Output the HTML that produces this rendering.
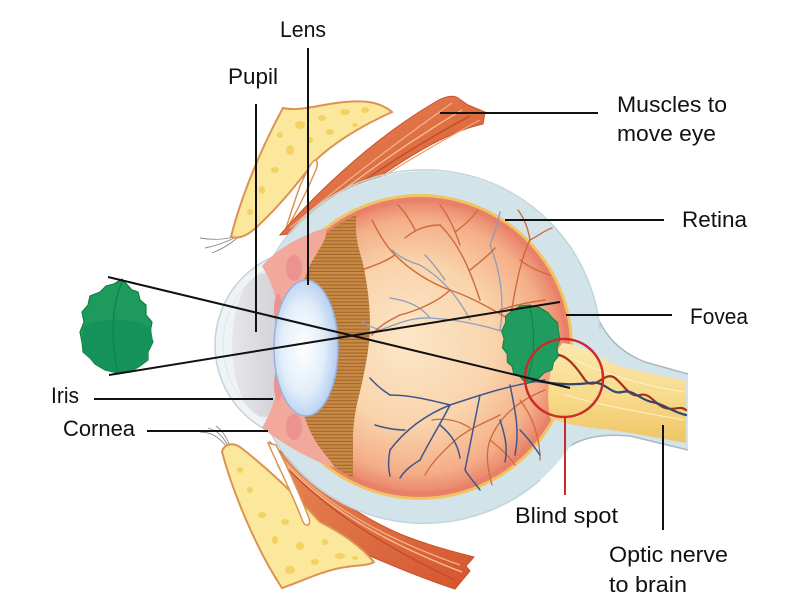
<!DOCTYPE html>
<html><head><meta charset="utf-8"><style>
html,body{margin:0;padding:0;background:#fff;}
svg{display:block}
text{font-family:"Liberation Sans",Arial,sans-serif;font-size:22px;fill:#111;}
</style></head><body>
<svg width="800" height="600" viewBox="0 0 800 600" xmlns="http://www.w3.org/2000/svg">
<defs>
<radialGradient id="vit" cx="420" cy="347" r="148" fx="405" fy="340" gradientUnits="userSpaceOnUse">
<stop offset="0" stop-color="#fce7c8"/>
<stop offset="0.55" stop-color="#f9d4ac"/>
<stop offset="0.86" stop-color="#f4ae88"/>
<stop offset="1" stop-color="#e9816a"/>
</radialGradient>
<pattern id="stripes" width="10" height="3.4" patternUnits="userSpaceOnUse">
<rect width="10" height="3.4" fill="#c98a45"/>
<rect y="2.3" width="10" height="1.1" fill="#a2672c"/>
</pattern>
<radialGradient id="lensg" cx="0.45" cy="0.5" r="0.6">
<stop offset="0" stop-color="#ffffff"/>
<stop offset="0.55" stop-color="#e3eefa"/>
<stop offset="0.85" stop-color="#bcd3f1"/>
<stop offset="1" stop-color="#9fbbe6"/>
</radialGradient>
<linearGradient id="nerveg" x1="0" y1="0" x2="0" y2="1">
<stop offset="0" stop-color="#fbe8ad"/>
<stop offset="0.5" stop-color="#f8dc8e"/>
<stop offset="1" stop-color="#efc565"/>
</linearGradient>
<linearGradient id="chg" x1="0" y1="0" x2="1" y2="0">
<stop offset="0" stop-color="#e6e6ea"/>
<stop offset="1" stop-color="#c8c9d0"/>
</linearGradient>
<linearGradient id="musg" x1="0" y1="0" x2="1" y2="1">
<stop offset="0" stop-color="#e88a58"/>
<stop offset="1" stop-color="#d4552f"/>
</linearGradient>
<clipPath id="inner"><circle cx="420" cy="347" r="147"/></clipPath>
</defs>
<rect width="800" height="600" fill="#fff"/>

<!-- eyelashes -->
<g fill="none" stroke="#8a8a8a" stroke-width="0.9">
<path d="M236,236 C225,240 212,240 200,238"/>
<path d="M236,237 C225,243 215,246 205,248"/>
<path d="M237,238 C228,246 220,250 212,253"/>
<path d="M226,446 C218,436 210,432 200,432"/>
<path d="M228,446 C222,434 215,430 208,428"/>
<path d="M230,446 C226,436 222,430 216,426"/>
</g>

<!-- upper lid + fat -->
<path d="M231,237 C240,200 260,150 283,108 C300,112 320,104 345,102 C365,100 380,102 392,112 C370,122 340,138 318,158 C305,172 290,195 262,222 C252,232 242,240 231,237 Z" fill="#fbe89c" stroke="#dc9350" stroke-width="2"/>
<g fill="#f4d262">
<ellipse cx="300" cy="125" rx="5" ry="4"/><ellipse cx="322" cy="118" rx="4" ry="3"/><ellipse cx="345" cy="112" rx="5" ry="3"/>
<ellipse cx="365" cy="110" rx="4" ry="3"/><ellipse cx="330" cy="132" rx="4" ry="3"/><ellipse cx="290" cy="150" rx="4" ry="5"/>
<ellipse cx="275" cy="170" rx="4" ry="3"/><ellipse cx="262" cy="190" rx="3" ry="4"/><ellipse cx="250" cy="212" rx="3" ry="3"/>
<ellipse cx="310" cy="140" rx="3" ry="3"/><ellipse cx="355" cy="125" rx="3" ry="2"/><ellipse cx="280" cy="135" rx="3" ry="3"/>
</g>
<path d="M300,186 C305,175 310,163 315,160 C318,160 318,166 315,172 C305,195 295,215 285,232 C290,215 295,200 300,186 Z" fill="#fff" stroke="#dc9350" stroke-width="1.5"/>

<!-- upper muscle -->
<path d="M280,235 C320,188 378,136 432,104 C443,97 452,94 458,98 L468,105 L485,112 L483,124 C445,132 395,162 305,232 Z" fill="url(#musg)" stroke="#c8522c" stroke-width="1"/>
<g fill="none" stroke-width="1.3">
<path d="M290,228 C340,185 400,140 452,103" stroke="#f4b085"/>
<path d="M298,230 C350,188 410,148 470,116" stroke="#bf4a28"/>
<path d="M295,229 C345,186 405,144 462,110" stroke="#f7c097"/>
<path d="M302,230 C360,190 420,152 480,120" stroke="#f0a070"/>
</g>

<!-- lower muscle -->
<path d="M270,442 C300,468 340,508 400,534 C430,546 455,552 474,557 L466,566 L470,571 L455,589 C430,581 400,569 370,556 C330,536 300,506 278,466 Z" fill="url(#musg)" stroke="#c8522c" stroke-width="1"/>
<g fill="none" stroke-width="1.3">
<path d="M276,452 C310,490 360,530 460,565" stroke="#f4b085"/>
<path d="M280,460 C315,500 370,540 455,580" stroke="#bf4a28"/>
<path d="M278,456 C312,495 365,535 462,572" stroke="#f7c097"/>
</g>

<!-- lower lid + fat -->
<path d="M222,452 C235,500 260,555 282,588 C300,582 320,572 340,568 C355,565 368,566 374,562 C360,545 340,532 320,522 C300,500 270,470 240,447 C232,442 224,444 222,452 Z" fill="#fbe89c" stroke="#dc9350" stroke-width="2"/>
<g fill="#f4d262">
<ellipse cx="290" cy="570" rx="5" ry="4"/><ellipse cx="315" cy="562" rx="4" ry="3"/><ellipse cx="340" cy="556" rx="5" ry="3"/>
<ellipse cx="300" cy="546" rx="4" ry="4"/><ellipse cx="275" cy="540" rx="3" ry="4"/><ellipse cx="262" cy="515" rx="4" ry="3"/>
<ellipse cx="250" cy="490" rx="3" ry="3"/><ellipse cx="285" cy="522" rx="4" ry="3"/><ellipse cx="325" cy="542" rx="3" ry="3"/>
<ellipse cx="355" cy="558" rx="3" ry="2"/><ellipse cx="240" cy="470" rx="3" ry="3"/>
</g>
<path d="M268,443 C280,470 295,500 303,522 C307,528 311,525 309,518 C300,495 288,468 276,445 Z" fill="#fff" stroke="#dc9350" stroke-width="1.5"/>

<!-- optic nerve sheath -->
<path d="M578,268 C594,325 615,350 645,362 L688,374 L688,450 L630,436 C590,432 560,442 535,482 L520,400 Z" fill="#d3e3ea"/>
<path d="M588,290 C598,330 615,350 645,362 L688,374" fill="none" stroke="#aab8c0" stroke-width="1.5"/>
<path d="M540,478 C560,442 590,432 630,436 L688,450" fill="none" stroke="#aab8c0" stroke-width="1.5"/>

<!-- sclera -->
<circle cx="425" cy="347" r="176" fill="#d3e3ea"/>
<path d="M270,262 A176,176 0 0 1 600,330" fill="none" stroke="#c2d4dc" stroke-width="1.5"/>
<path d="M270,432 A176,176 0 0 0 540,480" fill="none" stroke="#c2d4dc" stroke-width="1.5"/>

<!-- cornea -->
<circle cx="311" cy="345" r="96" fill="#eef3f6" stroke="#c5d1d8" stroke-width="1.5"/>
<circle cx="311" cy="345" r="88" fill="none" stroke="#dfe7ec" stroke-width="1"/>

<!-- retina layers -->
<circle cx="420" cy="347" r="153" fill="#f2c461"/>
<circle cx="420" cy="347" r="150" fill="#e8806a"/>
<circle cx="420" cy="347" r="145" fill="url(#vit)"/>

<!-- brown band -->
<path clip-path="url(#inner)" d="M250,180 L357,180 L357,213 C355,225 355,237 362,260 C367,280 370,305 370,323 C370,340 368,355 362,383 C358,400 353,417 353,440 L353,520 L250,520 Z" fill="url(#stripes)"/>

<!-- vessels -->
<g fill="none" stroke-linecap="round">
<g stroke="#8d9eb9" stroke-width="1.3">
<path d="M545,345 C500,330 470,320 430,318 C410,317 395,325 380,330"/>
<path d="M470,320 C460,300 445,280 420,265"/>
<path d="M430,318 C420,305 405,300 390,298"/>
<path d="M500,330 C505,300 500,270 490,245"/>
<path d="M420,265 C410,262 400,258 392,250"/>
<path d="M490,245 C495,232 498,222 500,212"/>
<path d="M445,280 C438,270 432,262 425,255"/>
<path d="M380,330 C374,328 368,326 362,322"/>
</g>
<g stroke="#d0693b" stroke-width="1.4">
<path d="M540,338 C510,320 480,300 450,290 C430,283 410,270 395,255"/>
<path d="M480,300 C470,270 460,245 440,225"/>
<path d="M450,290 C440,300 420,310 400,315"/>
<path d="M510,320 C515,290 520,260 530,240"/>
<path d="M460,245 C455,230 448,215 440,205"/>
<path d="M395,255 C385,245 378,232 372,220"/>
<path d="M395,255 C385,262 375,265 362,270"/>
<path d="M530,240 C540,235 545,230 552,228"/>
<path d="M440,225 C425,225 415,230 405,238"/>
<path d="M520,260 C530,268 540,272 550,275"/>
<path d="M400,315 C390,320 380,325 372,335"/>
<path d="M530,240 C528,228 524,218 518,210"/>
<path d="M470,270 C480,262 488,256 495,248"/>
<path d="M415,230 C410,220 405,212 398,205"/>
<path d="M500,310 C515,305 530,302 545,300"/>
<path d="M455,232 C465,225 472,218 478,210"/>
</g>
<g stroke="#d0693b" stroke-width="1.3">
<path d="M545,390 C520,400 500,415 490,440 C485,455 488,470 492,485"/>
<path d="M500,415 C480,425 465,430 450,445"/>
<path d="M520,400 C535,420 540,440 540,460"/>
<path d="M450,445 C440,455 432,462 425,475"/>
<path d="M490,440 C500,448 508,455 515,465"/>
<path d="M470,428 C458,420 445,418 432,420"/>
</g>
<g stroke="#41568c" stroke-width="1.5">
<path d="M545,380 C510,385 480,395 450,405 C425,415 405,430 390,450"/>
<path d="M480,395 C475,420 470,445 465,470"/>
<path d="M450,405 C440,425 430,440 420,460"/>
<path d="M510,385 C515,410 520,430 515,455"/>
<path d="M450,405 C430,400 410,395 390,395"/>
<path d="M405,430 C395,430 385,428 375,425"/>
<path d="M420,460 C412,465 405,470 400,478"/>
<path d="M465,470 C470,478 475,483 480,490"/>
<path d="M520,430 C530,440 535,448 540,455"/>
<path d="M390,395 C382,390 376,385 370,378"/>
<path d="M390,450 C388,460 388,468 390,476"/>
<path d="M440,425 C452,435 458,445 460,458"/>
<path d="M500,420 C505,435 508,448 505,462"/>
</g>
</g>

<!-- anterior chamber -->
<ellipse cx="265" cy="345" rx="33" ry="72" fill="url(#chg)"/>
<!-- iris / ciliary -->
<path d="M262,266 C278,248 300,236 325,228 C330,236 318,250 310,265 C303,280 300,295 300,310 L300,385 C300,405 305,425 318,445 C325,455 332,462 335,468 C310,460 285,445 262,428 C275,405 282,380 282,347 C282,312 275,288 262,266 Z" fill="#f2a89a"/>
<g fill="#ec9290">
<ellipse cx="294" cy="268" rx="8" ry="13"/>
<ellipse cx="294" cy="427" rx="8" ry="13"/>
<ellipse cx="278" cy="310" rx="4" ry="16"/>
<ellipse cx="278" cy="385" rx="4" ry="16"/>
</g>
<!-- lens -->
<ellipse cx="306" cy="348" rx="32" ry="68" fill="url(#lensg)" stroke="#98b2dc" stroke-width="1.5"/>

<!-- optic nerve yellow -->
<path d="M562,343 C585,345 600,360 625,368 L686,381 L686,443 L625,432 C600,428 575,428 550,418 C546,395 548,365 562,343 Z" fill="url(#nerveg)"/>
<g fill="none" stroke="#fdf1c8" stroke-width="1">
<path d="M575,360 C600,372 640,385 684,392"/>
<path d="M565,395 C600,405 640,412 684,420"/>
</g>
<g fill="none" stroke-width="2.2" stroke-linecap="round">
<path d="M545,360 C560,345 575,365 585,380 C595,392 605,370 615,378 C625,386 630,398 640,395 C650,392 655,405 665,408 C675,411 680,405 686,410" stroke="#a3301c"/>
<path d="M530,380 C560,385 575,385 590,383 C605,380 610,395 622,392 C634,389 640,400 652,402 C664,404 672,412 686,415" stroke="#34466f"/>
</g>

<!-- leaves -->
<g>
<path d="M122,279 L132,290 L138,292 L140,300 L146,305 L146,315 L152,322 L150,333 L153,342 L148,352 L148,360 L140,366 L130,372 L118,373 L105,370 L95,364 L90,358 L83,352 L82,342 L80,332 L84,322 L82,312 L88,305 L90,296 L100,292 L106,286 L114,284 Z" fill="#1d9a5c" stroke="#13803f" stroke-width="1.2"/>
<path d="M84,326 C100,318 130,316 151,328 L153,342 L148,352 L148,360 L140,366 L130,372 L118,373 L105,370 L95,364 L90,358 L83,352 L82,342 Z" fill="#15925a"/>
<path d="M122,282 C112,305 110,340 118,372" fill="none" stroke="#13803f" stroke-width="1.2"/>
</g>
<g transform="translate(560,384) scale(-0.8,-0.84) translate(-80,-279)">
<path d="M122,279 L132,290 L138,292 L140,300 L146,305 L146,315 L152,322 L150,333 L153,342 L148,352 L148,360 L140,366 L130,372 L118,373 L105,370 L95,364 L90,358 L83,352 L82,342 L80,332 L84,322 L82,312 L88,305 L90,296 L100,292 L106,286 L114,284 Z" fill="#1f9c5e" stroke="#13803f" stroke-width="1.2"/>
<path d="M122,282 C112,305 110,340 118,372" fill="none" stroke="#13803f" stroke-width="1.2"/>
</g>

<!-- blind spot circle -->
<circle cx="564" cy="378" r="39" fill="none" stroke="#cc2a2a" stroke-width="2.5"/>
<line x1="565" y1="417" x2="565" y2="495" stroke="#cc2a2a" stroke-width="2"/>

<!-- rays -->
<g stroke="#111" stroke-width="2">
<line x1="108" y1="277" x2="570" y2="388"/>
<line x1="109" y1="375" x2="560" y2="302"/>
</g>

<!-- leader lines -->
<g stroke="#111" stroke-width="2">
<line x1="308" y1="48" x2="308" y2="285"/>
<line x1="256" y1="104" x2="256" y2="332"/>
<line x1="440" y1="113" x2="598" y2="113"/>
<line x1="505" y1="220" x2="664" y2="220"/>
<line x1="566" y1="315" x2="672" y2="315"/>
<line x1="94" y1="399" x2="273" y2="399"/>
<line x1="147" y1="431" x2="268" y2="431"/>
<line x1="663" y1="425" x2="663" y2="530"/>
</g>

<!-- labels -->
<text x="280" y="37" textLength="46" lengthAdjust="spacingAndGlyphs">Lens</text>
<text x="228" y="84" textLength="50" lengthAdjust="spacingAndGlyphs">Pupil</text>
<text x="617" y="112" textLength="110" lengthAdjust="spacingAndGlyphs">Muscles to</text>
<text x="617" y="141" textLength="99" lengthAdjust="spacingAndGlyphs">move eye</text>
<text x="682" y="227" textLength="65" lengthAdjust="spacingAndGlyphs">Retina</text>
<text x="690" y="324" textLength="58" lengthAdjust="spacingAndGlyphs">Fovea</text>
<text x="51" y="403" textLength="28" lengthAdjust="spacingAndGlyphs">Iris</text>
<text x="63" y="436" textLength="72" lengthAdjust="spacingAndGlyphs">Cornea</text>
<text x="515" y="523" textLength="103" lengthAdjust="spacingAndGlyphs">Blind spot</text>
<text x="609" y="562" textLength="119" lengthAdjust="spacingAndGlyphs">Optic nerve</text>
<text x="609" y="592" textLength="78" lengthAdjust="spacingAndGlyphs">to brain</text>
</svg>
</body></html>
